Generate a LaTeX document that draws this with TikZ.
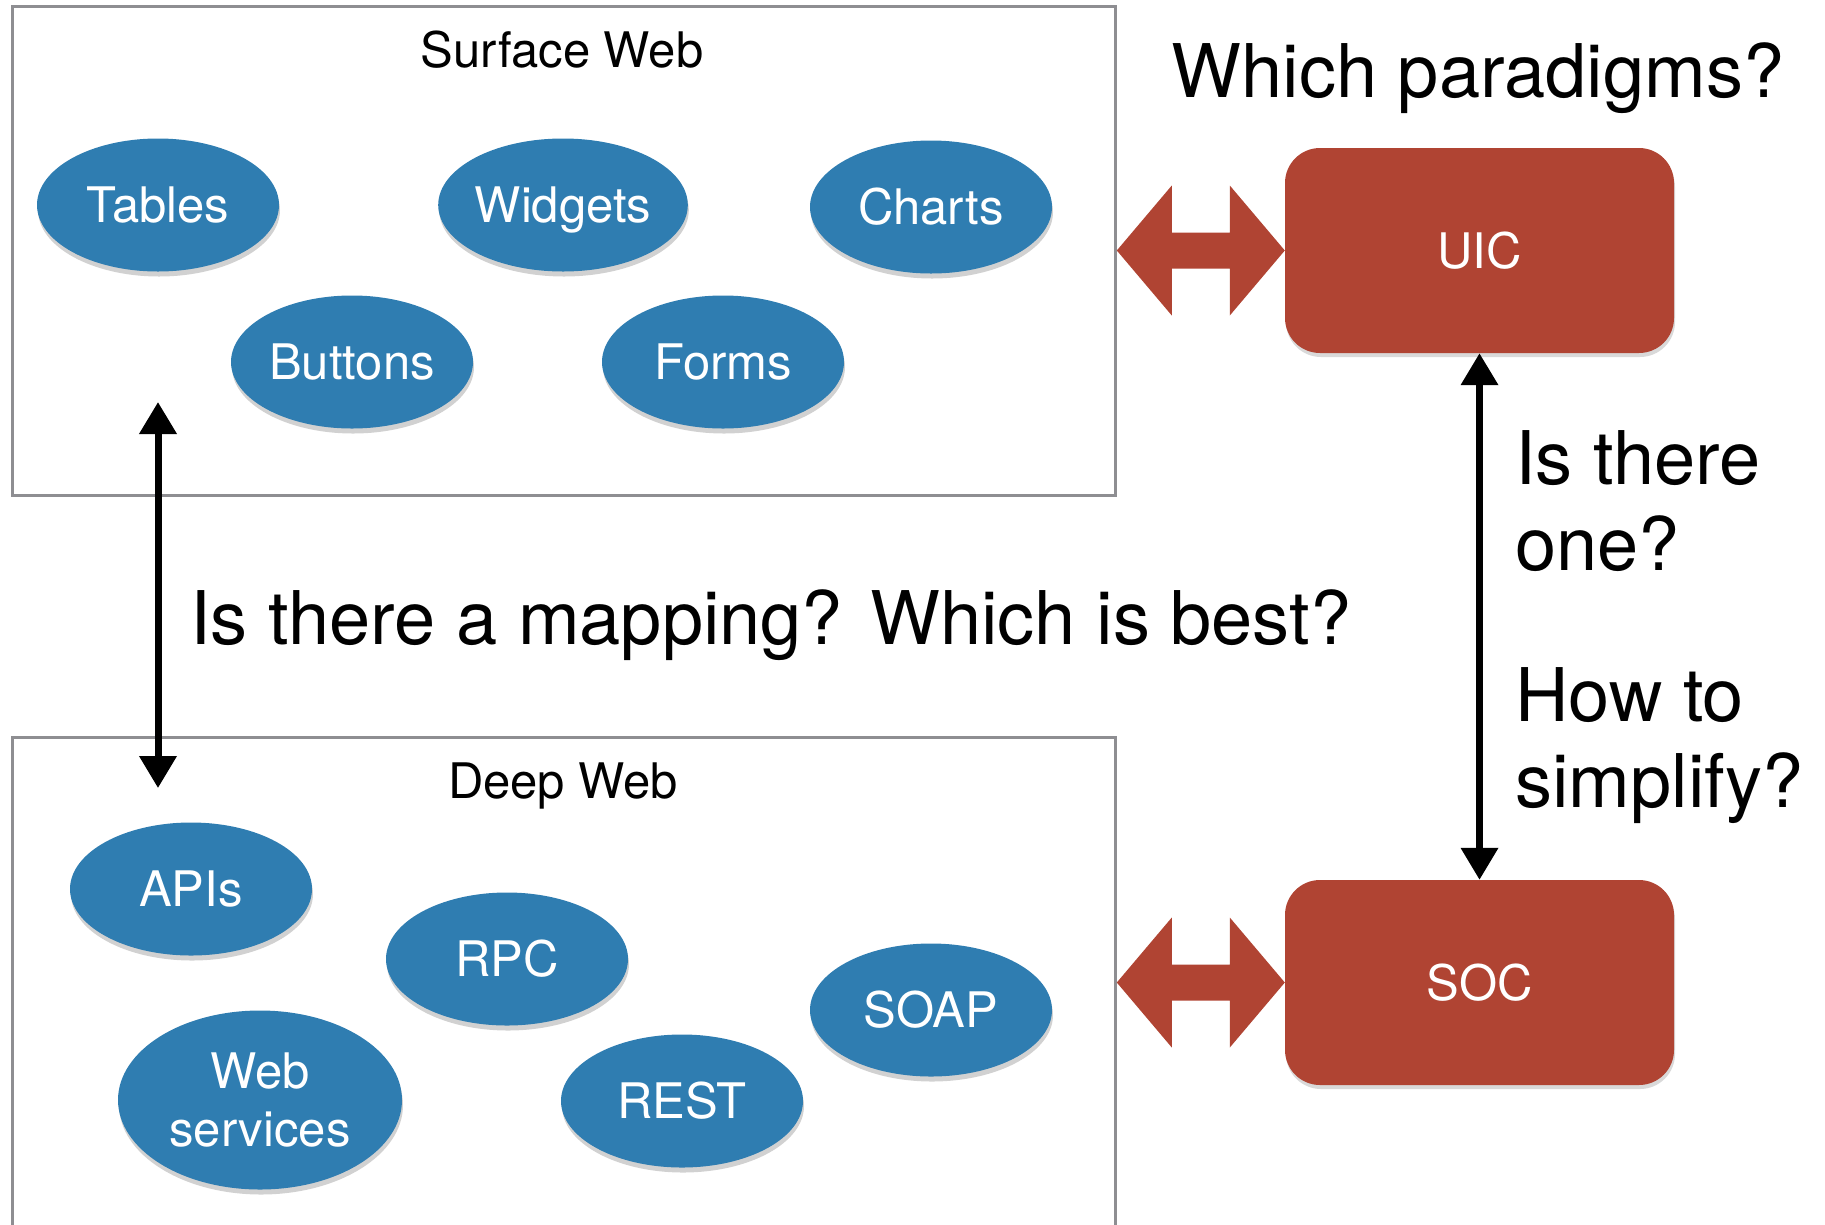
\documentclass[tikz,border=0pt]{standalone}
\usepackage{fontspec}
\setmainfont{TeX Gyre Heros}
\usetikzlibrary{shapes.geometric, arrows.meta, shadows}

\definecolor{bubbleBlue}{HTML}{2F7DB1}
\definecolor{brick}{HTML}{B04433}
\definecolor{frameGray}{HTML}{8E8E92}

\begin{document}
\begin{tikzpicture}[
        x=1pt, y=-1pt,
        bubble/.style={
          ellipse,
          fill=bubbleBlue,
          text=white,
          align=center,
          inner sep=0pt,
          minimum width=242pt,
          minimum height=133pt,
          font=\fontsize{49}{58}\selectfont,
          drop shadow={shadow xshift=1pt, shadow yshift=-5pt, opacity=0.18, fill=black}
        },
        paradigm/.style={
          rectangle,
          fill=brick,
          text=white,
          rounded corners=35pt,
          minimum width=389pt,
          minimum height=205pt,
          font=\fontsize{49}{58}\selectfont,
          drop shadow={shadow xshift=1pt, shadow yshift=-4pt, opacity=0.15, fill=black}
        },
        region/.style={draw=frameGray, line width=3pt},
        regionTitle/.style={anchor=base, inner sep=0pt, font=\fontsize{49}{58}\selectfont},
        question/.style={anchor=base west, inner sep=0pt, align=left, font=\fontsize{74}{86}\selectfont},
        line/.style={{Triangle[length=32pt, width=36pt]}-{Triangle[length=32pt, width=36pt]}, line width=7pt},
        fatArrow/.style={fill=brick}
    ]
    \clip (0,0) rectangle (1825,1224);

    % Regions
    \draw[region] (12,6) rectangle (1115,495);
    \draw[region] (12,737) rectangle (1115,1260);
    \node[regionTitle] (surfaceTitle) at (562,67) {Surface Web};
    \node[regionTitle] (deepTitle) at (563,798) {Deep Web};

    % Surface web bubbles
    \node[bubble] (tables) at (158,205) {Tables};
    \node[bubble, text depth=0pt] (widgets) at (563,205) {Widgets};
    \node[bubble] (charts) at (931,207) {Charts};
    \node[bubble] (buttons) at (352,362) {Buttons};
    \node[bubble] (forms) at (723,362) {Forms};

    % Deep web bubbles
    \node[bubble] (apis) at (191,889) {APIs};
    \node[bubble] (rpc) at (507,959) {RPC};
    \node[bubble] (soap) at (931,1010) {SOAP};
    \node[bubble] (rest) at (682,1101) {REST};
    \node[bubble, minimum width=284pt, minimum height=179pt] (webServices) at (260,1100) {Web\\services};

    % Paradigm boxes
    \node[paradigm] (uic) at (1479.5,250.5) {UIC};
    \node[paradigm] (soc) at (1479.5,982.5) {SOC};

    % Questions (multi-line ones sit on their last line)
    \node[question, anchor=base] (whichParadigms) at (1478,97) {Which paradigms?};
    \node[question] (mappingQ) at (190,644) {Is there a mapping? Which is best?};
    \node[question] (oneQ) at (1515,570) {Is there\\one?};
    \node[question] (simplifyQ) at (1515,807) {How to\\simplify?};

    % Connect the nodes
    \coordinate (mapTop) at (158,402);
    \coordinate (mapBottom) at (158,788);
    \draw[line] (mapTop) -- (mapBottom);
    \draw[line] (uic) -- (soc);

    % Fat arrows into the regions
    \fill[fatArrow] (uic.west) -- ++(-55,-65) -- ++(0,47) -- ++(-58,0) -- ++(0,-47) -- ++(-55,65)
      -- ++(55,65) -- ++(0,-47) -- ++(58,0) -- ++(0,47) -- cycle;
    \fill[fatArrow] (soc.west) -- ++(-55,-65) -- ++(0,47) -- ++(-58,0) -- ++(0,-47) -- ++(-55,65)
      -- ++(55,65) -- ++(0,-47) -- ++(58,0) -- ++(0,47) -- cycle;

\end{tikzpicture}
\end{document}
